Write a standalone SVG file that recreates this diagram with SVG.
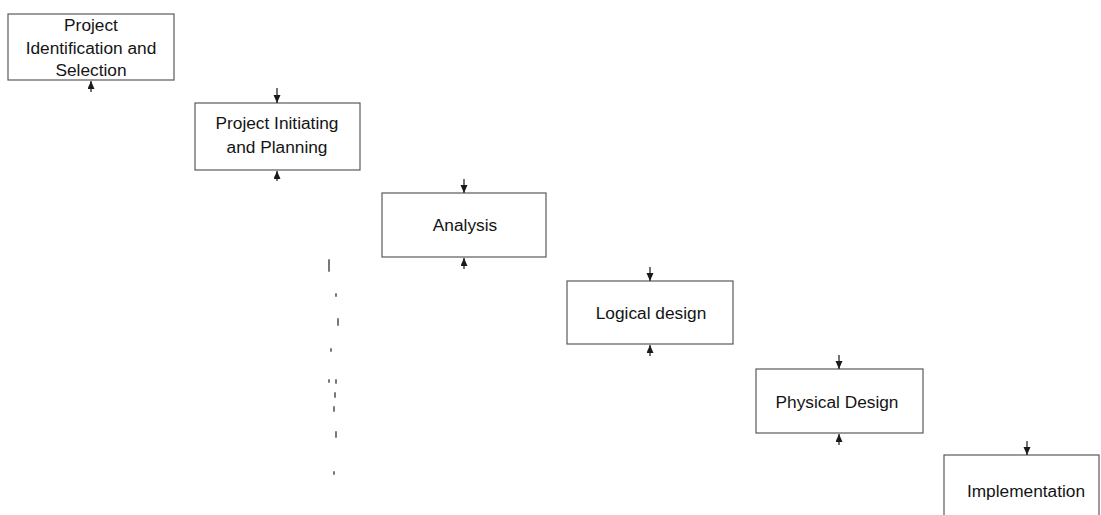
<svg xmlns="http://www.w3.org/2000/svg" width="1101" height="515" viewBox="0 0 1101 515">
  <style>
    .box { fill: #ffffff; stroke: #5a5a5a; stroke-width: 1.2; }
    .label { font-family: "Liberation Sans", Arial, sans-serif; font-size: 17.3px; fill: #141414; text-anchor: middle; }
    .link { fill: none; stroke: #2a2a2a; stroke-width: 1.3; }
    .speck { fill: none; stroke: #3a3a3a; stroke-width: 1.8; stroke-linecap: round; }
  </style>
  <defs>
    <marker id="head" markerUnits="userSpaceOnUse" markerWidth="8" markerHeight="8" refX="8" refY="3.5" orient="auto">
      <path d="M0,0 L8,3.5 L0,7 z" fill="#1a1a1a"/>
    </marker>
  </defs>

  <rect width="1101" height="515" fill="#ffffff"/>

  <!-- Waterfall phases -->
  <g id="node-identification">
    <rect class="box" x="8" y="14" width="166" height="66"/>
    <text class="label" x="91" y="31">Project</text>
    <text class="label" x="91" y="54">Identification and</text>
    <text class="label" x="91" y="76">Selection</text>
  </g>

  <g id="node-initiating">
    <rect class="box" x="195" y="103" width="165" height="67"/>
    <text class="label" x="277" y="129">Project Initiating</text>
    <text class="label" x="277" y="153">and Planning</text>
  </g>

  <g id="node-analysis">
    <rect class="box" x="382" y="193" width="164" height="64"/>
    <text class="label" x="465" y="231">Analysis</text>
  </g>

  <g id="node-logical">
    <rect class="box" x="567" y="281" width="166" height="63"/>
    <text class="label" x="651" y="319">Logical design</text>
  </g>

  <g id="node-physical">
    <rect class="box" x="756" y="369" width="167" height="64"/>
    <text class="label" x="837" y="408">Physical Design</text>
  </g>

  <g id="node-implementation">
    <rect class="box" x="944" y="455" width="155" height="80"/>
    <text class="label" x="1026" y="497">Implementation</text>
  </g>

  <!-- Arrow stubs into the top and out of the bottom of each phase -->
  <g id="connectors">
    <path class="link" d="M91,92 L91,81" marker-end="url(#head)"/>
    <path class="link" d="M277,88 L277,103" marker-end="url(#head)"/>
    <path class="link" d="M277,181 L277,171" marker-end="url(#head)"/>
    <path class="link" d="M464,179 L464,193" marker-end="url(#head)"/>
    <path class="link" d="M464,269 L464,258" marker-end="url(#head)"/>
    <path class="link" d="M650,267 L650,281" marker-end="url(#head)"/>
    <path class="link" d="M650,356 L650,345" marker-end="url(#head)"/>
    <path class="link" d="M839,355 L839,369" marker-end="url(#head)"/>
    <path class="link" d="M839,445 L839,434" marker-end="url(#head)"/>
    <path class="link" d="M1027,441 L1027,455" marker-end="url(#head)"/>
  </g>

  <!-- Faint broken vertical trace -->
  <g id="trace" opacity="0.75">
    <path class="speck" d="M329,260 L329,271 M336,294 L336,296 M338,319 L338,325 M331,349 L331,351 M329,380 L329,382 M336,380 L336,383 M335,393 L335,397 M334,407 L334,411 M336,432 L336,437 M334,472 L334,474"/>
  </g>
</svg>
